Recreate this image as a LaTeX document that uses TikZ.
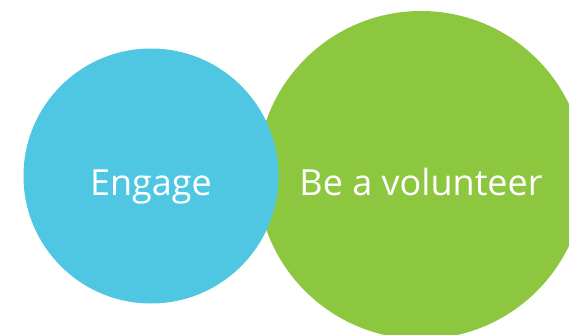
\documentclass[tikz,border=0pt]{standalone}
\usepackage{fontspec}
\setmainfont{Open Sans}
\definecolor{cblue}{HTML}{4FC7E3}
\definecolor{cgreen}{HTML}{8DC63F}
\begin{document}
\begin{tikzpicture}[x=1pt,y=-1pt,
  bubble/.style={circle,inner sep=0pt,draw=none},
  lbl/.style={text=white,font=\fontsize{36}{40}\selectfont,inner sep=0pt,anchor=base}]
\useasboundingbox (0,0) rectangle (569,334);
\begin{scope}
\clip (0,0) rectangle (569,334);
\node[bubble,fill=cgreen,minimum size=328pt] (green) at (421,175) {};
\node[bubble,fill=cblue,minimum size=255pt] (blue) at (151,176) {};
\end{scope}
\node[lbl] (engage) at (151,195) {Engage};
\node[lbl] (vol) at (421,195) {Be a volunteer};
\end{tikzpicture}
\end{document}
